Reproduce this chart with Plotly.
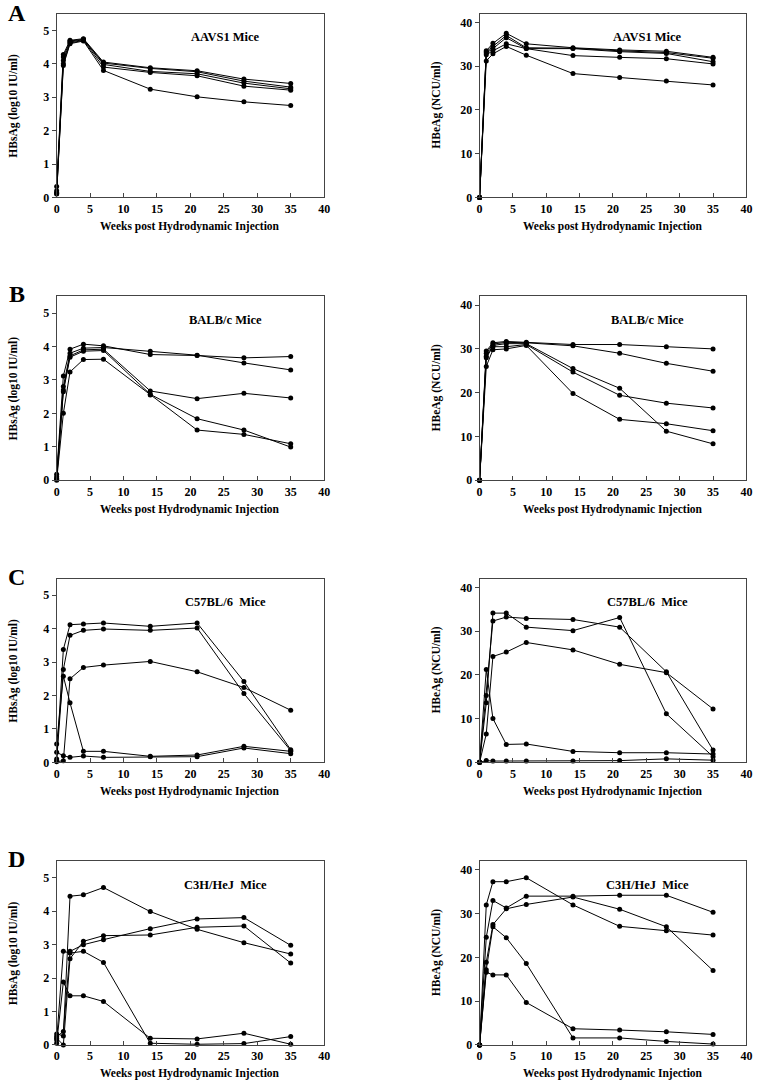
import plotly.graph_objects as go

weeks = [0, 1, 2, 4, 7, 14, 21, 28, 35]

# HBsAg (log10 IU/ml), one list per mouse
aavs1_hbsag = [
    [0.33, 4.28, 4.70, 4.75, 4.05, 3.88, 3.79, 3.54, 3.41],
    [0.20, 4.20, 4.68, 4.73, 4.02, 3.86, 3.76, 3.48, 3.30],
    [0.15, 4.10, 4.65, 4.72, 3.98, 3.77, 3.70, 3.42, 3.25],
    [0.10, 4.00, 4.62, 4.70, 3.90, 3.74, 3.64, 3.33, 3.21],
    [0.12, 3.95, 4.60, 4.68, 3.80, 3.24, 3.01, 2.86, 2.75],
]
balbc_hbsag = [
    [0.18, 3.12, 3.92, 4.07, 4.02, 3.76, 3.73, 3.66, 3.70],
    [0.10, 2.80, 3.80, 3.95, 3.97, 3.86, 3.74, 3.51, 3.30],
    [0.05, 2.70, 3.72, 3.90, 3.92, 2.67, 2.44, 2.60, 2.46],
    [0.02, 2.65, 3.68, 3.86, 3.88, 2.57, 1.84, 1.50, 0.99],
    [0.00, 2.00, 3.24, 3.61, 3.62, 2.55, 1.50, 1.37, 1.09],
]
c57_hbsag = [
    [0.10, 3.38, 4.12, 4.14, 4.17, 4.07, 4.17, 2.42, 0.38],
    [0.05, 2.78, 3.80, 3.95, 3.99, 3.95, 4.02, 2.06, 0.35],
    [0.02, 0.05, 2.50, 2.84, 2.91, 3.02, 2.71, 2.24, 1.56],
    [0.55, 2.58, 1.78, 0.33, 0.33, 0.18, 0.22, 0.48, 0.33],
    [0.30, 0.20, 0.15, 0.19, 0.15, 0.17, 0.17, 0.43, 0.26],
]
c3h_hbsag = [
    [0.33, 0.27, 4.45, 4.49, 4.71, 3.99, 3.46, 3.06, 2.72],
    [0.25, 0.40, 2.80, 3.00, 3.15, 3.48, 3.77, 3.81, 2.98],
    [0.20, 0.00, 2.58, 3.10, 3.27, 3.29, 3.52, 3.56, 2.45],
    [0.15, 2.80, 2.75, 2.80, 2.47, 0.05, 0.02, 0.04, 0.25],
    [0.05, 1.88, 1.47, 1.47, 1.30, 0.20, 0.18, 0.35, 0.02],
]

# HBeAg (NCU/ml), one list per mouse
aavs1_hbeag = [
    [0, 33.5, 35.2, 37.5, 35.1, 34.2, 33.7, 33.4, 32.0],
    [0, 33.3, 34.5, 37.0, 34.2, 34.1, 33.5, 33.1, 31.8],
    [0, 33.0, 34.0, 36.5, 34.0, 34.0, 33.3, 32.9, 31.0],
    [0, 32.6, 33.5, 35.1, 34.0, 32.4, 32.0, 31.7, 30.5],
    [0, 31.2, 32.8, 34.5, 32.5, 28.3, 27.4, 26.6, 25.7],
]
balbc_hbeag = [
    [0, 29.5, 31.4, 31.7, 31.5, 31.0, 31.0, 30.5, 30.0],
    [0, 29.0, 31.1, 31.5, 31.4, 30.7, 29.0, 26.7, 24.9],
    [0, 28.3, 30.8, 31.2, 31.2, 25.5, 21.0, 11.2, 8.3],
    [0, 28.0, 30.5, 30.5, 31.0, 24.7, 19.4, 17.6, 16.5],
    [0, 26.0, 29.8, 30.0, 30.8, 19.8, 13.9, 12.9, 11.3],
]
c57_hbeag = [
    [0, 13.6, 34.1, 34.1, 30.9, 30.1, 33.1, 11.1, 1.3],
    [0, 15.3, 32.3, 33.2, 32.9, 32.65, 30.9, 20.7, 2.8],
    [0, 6.5, 24.2, 25.2, 27.4, 25.7, 22.4, 20.5, 12.2],
    [0, 21.2, 10.0, 4.1, 4.2, 2.5, 2.2, 2.2, 1.9],
    [0, 0.4, 0.3, 0.3, 0.3, 0.3, 0.4, 0.8, 0.5],
]
c3h_hbeag = [
    [0, 32.0, 37.3, 37.3, 38.2, 32.0, 27.1, 26.1, 25.1],
    [0, 24.6, 33.0, 31.3, 34.0, 34.0, 34.2, 34.2, 30.3],
    [0, 18.9, 27.5, 31.1, 32.1, 33.8, 31.0, 27.0, 17.0],
    [0, 17.2, 27.0, 24.5, 18.6, 1.6, 1.6, 0.8, 0.2],
    [0, 16.6, 16.0, 16.0, 9.7, 3.7, 3.4, 3.0, 2.4],
]

panel_letters = ["A", "B", "C", "D"]
strain_names = ["AAVS1 Mice", "BALB/c Mice", "C57BL/6  Mice", "C3H/HeJ  Mice"]
hbsag_sets = [aavs1_hbsag, balbc_hbsag, c57_hbsag, c3h_hbsag]
hbeag_sets = [aavs1_hbeag, balbc_hbeag, c57_hbeag, c3h_hbeag]

W, H = 761, 1088
FONT = "Liberation Serif"
AXIS_COLOR = "#444444"

# plot-box pixel positions (left/right per column, top per row)
col_px = [(54.3, 325.0), (482.3, 752.3)]
row_top_px = [13.7, 298.3, 582.3, 866.7]
box_h = 185.0

fig = go.Figure()
annotations = []


def bold(size):
    return dict(family=FONT, size=size, color="black", weight="bold")


for r in range(4):
    top = row_top_px[r]
    ydom = [1 - (top + box_h) / H, 1 - top / H]
    for c in range(2):
        idx = r * 2 + c + 1
        sfx = "" if idx == 1 else str(idx)
        xa, ya = "x" + sfx, "y" + sfx
        left, right = col_px[c]
        data = hbsag_sets[r] if c == 0 else hbeag_sets[r]

        for mouse in data:
            fig.add_trace(go.Scatter(
                x=weeks, y=mouse, xaxis=xa, yaxis=ya,
                mode="lines+markers",
                line=dict(color="black", width=1),
                marker=dict(color="black", size=5),
                cliponaxis=False, showlegend=False,
            ))

        common = dict(
            showline=True, linecolor=AXIS_COLOR, linewidth=1, mirror=True,
            showgrid=False, zeroline=False,
            tickfont=bold(12),
            ticklen=4, tickcolor=AXIS_COLOR, tickwidth=1,
        )
        fig.layout["xaxis" + sfx] = dict(
            common, domain=[left / W, right / W], anchor=ya,
            range=[0, 40], tickmode="linear", tick0=0, dtick=5, ticks="inside",
        )
        if c == 0:
            yr, dt = [0, 5.5], 1
        else:
            yr, dt = [0, 42], 10
        fig.layout["yaxis" + sfx] = dict(
            common, domain=ydom, anchor=xa,
            range=yr, tickmode="linear", tick0=0, dtick=dt, ticks="outside",
        )

        # strain name inside the plot
        annotations.append(dict(
            x=25.2, y=yr[1] * 0.872, xref=xa, yref=ya,
            xanchor="center", yanchor="middle",
            text=strain_names[r], showarrow=False, font=bold(12.5),
        ))
        # x axis title
        annotations.append(dict(
            x=(left + right) / 2 / W, y=1 - (top + box_h + 29) / H,
            xref="paper", yref="paper", xanchor="center", yanchor="middle",
            showarrow=False, text="Weeks post Hydrodynamic Injection",
            font=bold(11.5),
        ))
        # y axis title
        annotations.append(dict(
            x=(left - 44) / W, y=1 - (top + box_h / 2) / H,
            xref="paper", yref="paper", xanchor="center", yanchor="middle",
            showarrow=False, textangle=-90,
            text="HBsAg (log10 IU/ml)" if c == 0 else "HBeAg (NCU/ml)",
            font=bold(11.5),
        ))

    annotations.append(dict(
        x=14 / W, y=1 - max(top - 2, 13) / H, xref="paper", yref="paper",
        xanchor="center", yanchor="middle",
        text=panel_letters[r], showarrow=False, font=bold(24),
    ))

fig.update_layout(
    width=W, height=H,
    margin=dict(l=0, r=0, t=0, b=0),
    paper_bgcolor="white", plot_bgcolor="white",
    annotations=annotations,
)

fig.write_html(
    "out.html",
    config={"displayModeBar": False},
    post_script="document.body.style.margin='0px';document.body.style.overflow='hidden';",
)
